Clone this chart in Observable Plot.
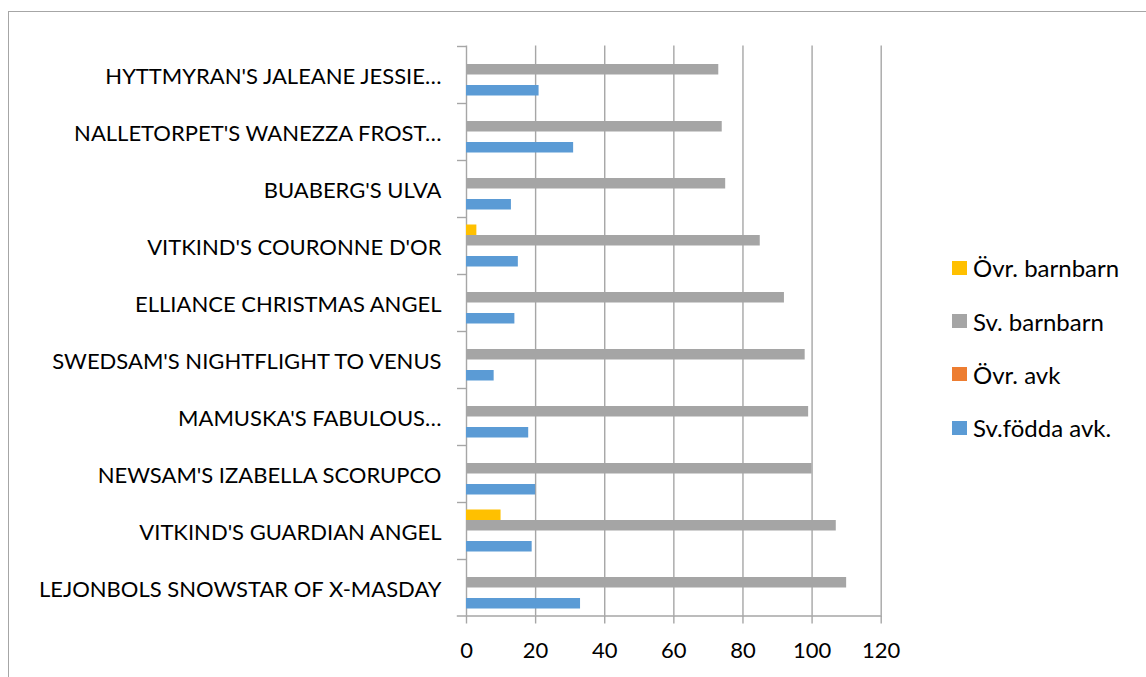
<!DOCTYPE html>
<html>
<head>
<meta charset="utf-8">
<script src="https://cdn.jsdelivr.net/npm/d3@7"></script>
<script src="https://cdn.jsdelivr.net/npm/@observablehq/plot@0.6"></script>
<style>
  html, body { margin: 0; padding: 0; background: #fff; overflow: hidden; }
  #wrap { position: relative; width: 1146px; height: 677px; }
  #border { position: absolute; left: 8px; top: 11px; width: 1400px; height: 900px; border: 1.5px solid #a6a6a6; box-sizing: border-box; }
  #chart { position: absolute; left: 0; top: 0; }
  #legend { position: absolute; left: 952px; top: 0; font-family: Lato, sans-serif; font-size: 24px; color: #000; }
  .item { position: absolute; left: 0; white-space: nowrap; display: flex; align-items: center; height: 30px; }
  .sw { width: 15px; height: 14px; margin-right: 6px; }
</style>
</head>
<body>
<div id="wrap">
  <div id="border"></div>
  <div id="chart"></div>
  <div id="legend"></div>
</div>
<script>
const categories = [
  "HYTTMYRAN'S JALEANE JESSIE…",
  "NALLETORPET'S WANEZZA FROST…",
  "BUABERG'S ULVA",
  "VITKIND'S COURONNE D'OR",
  "ELLIANCE CHRISTMAS ANGEL",
  "SWEDSAM'S NIGHTFLIGHT TO VENUS",
  "MAMUSKA'S FABULOUS…",
  "NEWSAM'S IZABELLA SCORUPCO",
  "VITKIND'S GUARDIAN ANGEL",
  "LEJONBOLS SNOWSTAR OF X-MASDAY"
];
const svFoddaAvk  = [21, 31, 13, 15, 14, 8, 18, 20, 19, 33];
const ovrAvk      = [0, 0, 0, 0, 0, 0, 0, 0, 0, 0];
const svBarnbarn  = [73, 74, 75, 85, 92, 98, 99, 100, 107, 110];
const ovrBarnbarn = [0, 0, 0, 3, 0, 0, 0, 0, 10, 0];
const xTicks = [0, 20, 40, 60, 80, 100, 120];
// top-to-bottom order inside each group
const seriesNames  = ["Övr. barnbarn", "Sv. barnbarn", "Övr. avk", "Sv.födda avk."];
const seriesValues = [ovrBarnbarn, svBarnbarn, ovrAvk, svFoddaAvk];
const seriesColors = ["#ffc000", "#a5a5a5", "#ed7d31", "#5b9bd5"];

const W = 1146, H = 677;
const mTop = 45.5, mBottom = 61.5, mLeft = 466, mRight = 265.3;
const band = (H - mTop - mBottom) / categories.length;
const pad = 7.5;
const step = (band - 2 * pad) / seriesNames.length;
const gridColor = "#a6a6a6";

const table = categories.map((name, i) => {
  const row = {name};
  seriesNames.forEach((s, j) => row[s] = seriesValues[j][i]);
  return row;
});

const barMarks = seriesNames.map((s, j) =>
  Plot.barX(table, {
    y: "name",
    x: s,
    fill: seriesColors[j],
    insetTop: pad + j * step,
    insetBottom: band - pad - (j + 1) * step
  })
);

const chart = Plot.plot({
  width: W,
  height: H,
  marginTop: mTop,
  marginBottom: mBottom,
  marginLeft: mLeft,
  marginRight: mRight,
  style: {fontFamily: "Lato, sans-serif", fontSize: "22px", color: "#000", background: "transparent", overflow: "visible"},
  x: {domain: [0, 120], ticks: xTicks, label: null},
  y: {domain: categories, padding: 0, label: null},
  marks: [
    Plot.gridX({ticks: xTicks, stroke: gridColor, strokeOpacity: 1, strokeWidth: 1.4}),
    ...barMarks,
    Plot.frame({anchor: "bottom", stroke: gridColor, strokeWidth: 1.4, insetLeft: -9}),
    Plot.axisX({ticks: xTicks, tickSize: 8, tickPadding: 18, stroke: gridColor, strokeWidth: 1.4, fill: "#000", fontSize: 22, label: null}),
    Plot.axisY({tickSize: 0, tickPadding: 25, fontSize: 22, fill: "#000", dy: 1.5, label: null}),
    Plot.axisY({text: null, tickSize: 9, stroke: gridColor, strokeWidth: 1.4, dy: -band / 2, label: null})
  ]
});
document.getElementById("chart").appendChild(chart);

const legend = document.getElementById("legend");
const legendY = [267.5, 321, 374, 427.5];
seriesNames.forEach((s, j) => {
  const d = document.createElement("div");
  d.className = "item";
  d.style.top = (legendY[j] - 15) + "px";
  d.innerHTML = `<span class="sw" style="background:${seriesColors[j]}"></span><span>${s}</span>`;
  legend.appendChild(d);
});
</script>
</body>
</html>
